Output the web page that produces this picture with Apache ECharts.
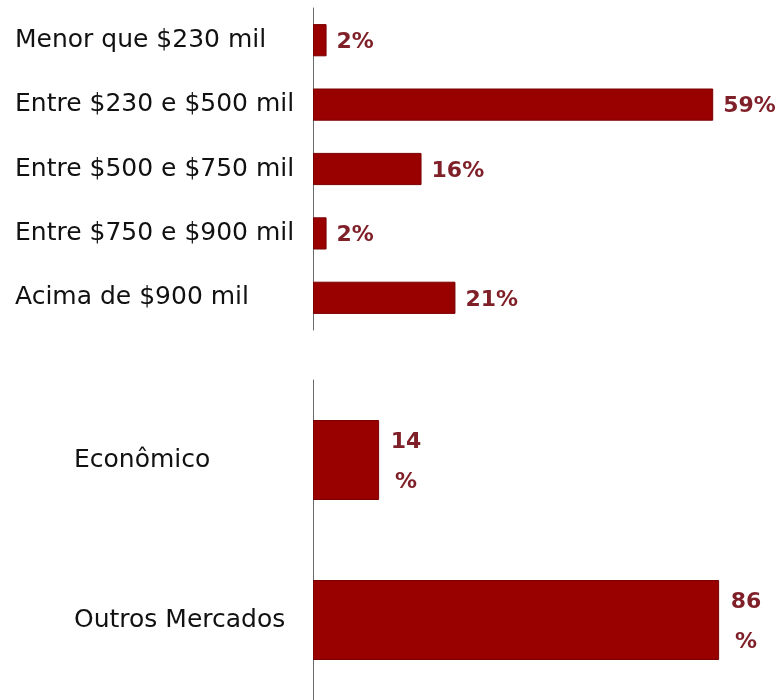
<!DOCTYPE html>
<html>
<head>
<meta charset="utf-8">
<script src="https://cdn.jsdelivr.net/npm/echarts@6/dist/echarts.min.js"></script>
<style>
  html, body { margin: 0; padding: 0; background: #ffffff; }
  #chart { width: 782px; height: 700px; }
</style>
</head>
<body>
<div id="chart"></div>
<script>
// Faixas de preço do imóvel
const faixaCategorias = [
  'Menor que $230 mil',
  'Entre $230 e $500 mil',
  'Entre $500 e $750 mil',
  'Entre $750 e $900 mil',
  'Acima de $900 mil'
];
const faixaValores = [2, 59, 16, 2, 21];

// Segmento de mercado
const segmentoCategorias = ['Econômico', 'Outros Mercados'];
const segmentoValores = [14, 86];

const BAR = '#990000';
const LABEL = '#7f1f28';
const FONT = '"DejaVu Sans", sans-serif';

const chart = echarts.init(document.getElementById('chart'), null, { renderer: 'canvas' });

const axisLineStyle = { show: true, lineStyle: { color: '#6b6b6b', width: 1 } };

chart.setOption({
  animation: false,
  backgroundColor: '#ffffff',
  grid: [
    { left: 313, top: 8, width: 407, height: 322 },
    { left: 313, top: 380, width: 425, height: 322 }
  ],
  xAxis: [
    { gridIndex: 0, type: 'value', min: 0, max: 60, show: false },
    { gridIndex: 1, type: 'value', min: 0, max: 90, show: false }
  ],
  yAxis: [
    {
      gridIndex: 0, type: 'category', data: faixaCategorias, inverse: true,
      axisLine: axisLineStyle, axisTick: { show: false },
      axisLabel: { align: 'left', margin: 298, padding: [6, 0, 0, 0], fontFamily: FONT, fontSize: 25, color: '#111111' }
    },
    {
      gridIndex: 1, type: 'category', data: segmentoCategorias, inverse: true,
      axisLine: axisLineStyle, axisTick: { show: false },
      axisLabel: { align: 'left', margin: 239, padding: [6, 0, 0, 0], fontFamily: FONT, fontSize: 25, color: '#111111' }
    }
  ],
  series: [
    {
      type: 'bar', xAxisIndex: 0, yAxisIndex: 0, data: faixaValores,
      barWidth: '50%',
      itemStyle: { color: BAR, borderColor: '#7a0000', borderWidth: 1 },
      label: {
        show: true, position: 'right', distance: 10, offset: [0, 2],
        formatter: p => p.value + '%',
        fontFamily: FONT, fontSize: 22, fontWeight: 'bold', color: LABEL
      }
    },
    {
      type: 'bar', xAxisIndex: 1, yAxisIndex: 1, data: segmentoValores,
      barWidth: '50%',
      itemStyle: { color: BAR, borderColor: '#7a0000', borderWidth: 1 },
      label: {
        show: true, position: 'right', distance: 27, align: 'center', offset: [0, 2],
        formatter: p => p.value + '\n%',
        lineHeight: 40,
        fontFamily: FONT, fontSize: 22, fontWeight: 'bold', color: LABEL
      }
    }
  ]
});
</script>
</body>
</html>
